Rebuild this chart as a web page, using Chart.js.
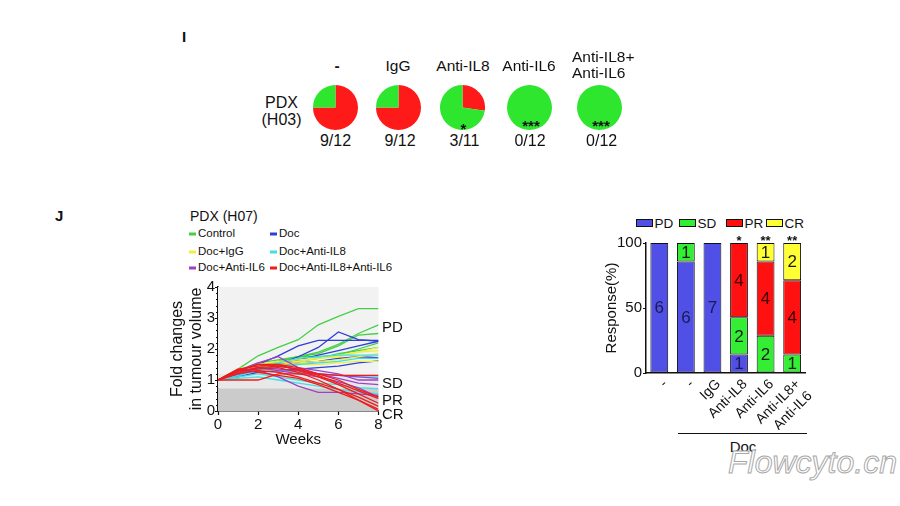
<!DOCTYPE html>
<html><head><meta charset="utf-8">
<script src="https://cdn.jsdelivr.net/npm/chart.js@4.4.1/dist/chart.umd.min.js"></script>
<style>
body{margin:0;width:900px;height:506px;background:#fff;position:relative;overflow:hidden;font-family:"Liberation Sans",Arial,sans-serif;color:#111}
.t{position:absolute;white-space:nowrap;line-height:1;z-index:5}
.c{transform:translate(-50%,-50%)}
.l{transform:translate(0,-50%)}
canvas{position:absolute;z-index:1}
.mk{position:absolute;width:7px;height:3px;transform:translate(0,-50%)}
.bx{position:absolute;width:15px;height:6px;border:1px solid #111}
</style></head><body>

<div class="t l" style="left:182px;top:36px;font-size:15px;font-weight:bold">I</div>
<div class="t l" style="left:55px;top:215px;font-size:15px;font-weight:bold">J</div>

<div id="pieHeads"></div>
<div class="t c" style="left:281.5px;top:103px;font-size:16px">PDX</div>
<div class="t c" style="left:281.5px;top:119.5px;font-size:16px">(H03)</div>

<div class="t l" style="left:190px;top:216px;font-size:14px">PDX (H07)</div>
<div id="lineLegend"></div>
<div id="respLabels"></div>

<div id="barLegend"></div>
<div style="position:absolute;left:678px;top:433px;width:129px;height:0;border-top:1.5px solid #111"></div>
<div class="t c" style="left:743px;top:446px;font-size:15px">Doc</div>

<div class="t" style="left:728px;top:446px;font-size:32px;font-style:italic;color:#fff;-webkit-text-stroke:1px #a8a8a8">Flowcyto.cn</div>

<canvas id="lineChart" width="225" height="172" style="left:160px;top:277px"></canvas>
<canvas id="barChart" width="230" height="197" style="left:590px;top:233px"></canvas>

<script>
// ---------- Panel I data ----------
const pieGroups = ["-", "IgG", "Anti-IL8", "Anti-IL6", "Anti-IL8+\nAnti-IL6"];
const pieResponders = [9, 9, 3, 0, 0];
const pieTotals = [12, 12, 11, 12, 12];
const pieStars = ["", "", "*", "***", "***"];

// ---------- Panel J line chart data ----------
const weeks = [0, 1, 2, 3, 4, 5, 6, 7, 8];
const controlLines = [
  [1, 1.35, 1.78, 2.05, 2.3, 2.78, 3.05, 3.3, 3.3],
  [1, 1.3, 1.55, 1.65, 1.75, 1.9, 2.15, 2.5, 2.78],
  [1, 1.25, 1.45, 1.6, 1.75, 1.85, 2.1, 2.45, 2.5],
  [1, 1.2, 1.4, 1.6, 1.75, 1.75, 1.8, 2.0, 2.2],
  [1, 1.2, 1.35, 1.5, 1.6, 1.7, 1.85, 1.95, 2.05]
];
const docLines = [
  [1, 1.2, 1.3, 1.5, 1.75, 2.05, 2.55, 2.3, 2.25],
  [1, 1.2, 1.5, 1.78, 2.1, 2.28, 2.28, 2.28, 2.28],
  [1, 1.1, 1.25, 1.3, 1.35, 1.4, 1.45, 1.55, 1.62],
  [1, 1.15, 1.35, 1.45, 1.55, 1.6, 1.7, 1.75, 1.72],
  [1, 1.2, 1.35, 1.5, 1.65, 1.8, 1.95, 2.1, 2.25]
];
const igGLines = [
  [1, 1.3, 1.45, 1.55, 1.6, 1.7, 1.8, 1.9, 2.05],
  [1, 1.25, 1.4, 1.5, 1.55, 1.6, 1.65, 1.75, 1.85],
  [1, 1.35, 1.5, 1.6, 1.65, 1.7, 1.75, 1.9, 1.95],
  [1, 1.3, 1.4, 1.45, 1.5, 1.5, 1.55, 1.6, 1.6]
];
const antiIL8Lines = [
  [1, 1.2, 1.4, 1.55, 1.7, 1.75, 1.8, 1.8, 1.8],
  [1, 1.15, 1.3, 1.4, 1.5, 1.55, 1.6, 1.7, 1.7],
  [1, 1.1, 1.2, 1.1, 1.0, 0.9, 0.85, 0.75, 0.72],
  [1, 1.05, 1.1, 1.0, 0.9, 0.8, 0.7, 0.62, 0.55],
  [1, 1.2, 1.35, 1.3, 1.25, 1.2, 1.15, 1.1, 1.1]
];
const antiIL6Lines = [
  [1, 1.3, 1.55, 1.75, 1.4, 1.3, 1.2, 1.0, 1.0],
  [1, 1.25, 1.3, 1.1, 0.8, 0.6, 0.6, 0.55, 0.5],
  [1, 1.3, 1.4, 1.35, 1.3, 1.2, 1.05, 0.9, 0.85],
  [1, 1.2, 1.4, 1.3, 1.2, 1.1, 0.95, 0.75, 0.45],
  [1, 1.3, 1.5, 1.45, 1.35, 1.2, 1.15, 1.1, 1.05]
];
const comboLines = [
  [1, 1.3, 1.35, 1.4, 1.25, 1.0, 0.7, 0.35, 0.0],
  [1, 1.35, 1.45, 1.5, 1.3, 1.1, 0.85, 0.55, 0.25],
  [1, 1.25, 1.4, 1.45, 1.35, 1.15, 0.9, 0.65, 0.4],
  [1, 1.3, 1.5, 1.5, 1.4, 1.2, 1.0, 0.7, 0.45],
  [1, 1.2, 1.3, 1.25, 1.1, 0.9, 0.7, 0.45, 0.15],
  [1, 1.0, 1.0, 1.2, 1.2, 1.2, 1.15, 1.15, 1.15],
  [1, 1.35, 1.25, 1.15, 1.05, 0.85, 0.6, 0.35, 0.05]
];
const lineGroupNames = ["Control", "Doc", "Doc+IgG", "Doc+Anti-IL8", "Doc+Anti-IL6", "Doc+Anti-IL8+Anti-IL6"];
const lineGroupColors = ["#44d044", "#2f3fd8", "#eeee44", "#40e0e0", "#a040c8", "#ee1c1c"];
const yTicksLine = [0, 1, 2, 3, 4];
const xTicksLine = [0, 2, 4, 6, 8];
const responseLabels = ["PD", "SD", "PR", "CR"];

// ---------- Panel J bar chart data ----------
const barCategories = ["-", "-", "IgG", "Anti-IL8", "Anti-IL6", ["Anti-IL8+", "Anti-IL6"]];
const pdCounts = [6, 6, 7, 1, 0, 0];
const sdCounts = [0, 1, 0, 2, 2, 1];
const prCounts = [0, 0, 0, 4, 4, 4];
const crCounts = [0, 0, 0, 0, 1, 2];
const barStars = ["", "", "", "*", "**", "**"];
const barColors = ["#5050e6", "#33ee33", "#ff1111", "#ffff33"];

Chart.defaults.font.family = '"Liberation Sans", Arial, sans-serif';
Chart.defaults.color = '#111';
Chart.defaults.animation = false;

// ---------- HTML text helpers ----------
function addText(parent, txt, left, top, size, cls, extra) {
  const d = document.createElement('div');
  d.className = 't ' + cls;
  d.style.left = left + 'px'; d.style.top = top + 'px'; d.style.fontSize = size + 'px';
  if (extra) Object.assign(d.style, extra);
  d.textContent = txt;
  document.getElementById(parent).appendChild(d);
  return d;
}

// ---------- Pies ----------
const pieCx = [335.5, 398.7, 462.5, 529.8, 599];
const headCx = [337, 398, 463, 529];
pieGroups.forEach((g, i) => {
  if (g.indexOf('\n') >= 0) {
    const parts = g.split('\n');
    addText('pieHeads', parts[0], 572, 57, 15.5, 'l');
    addText('pieHeads', parts[1], 572, 73, 15.5, 'l');
  } else {
    addText('pieHeads', g, headCx[i], 66, 15.5, 'c', g === '-' ? {fontWeight: 'bold'} : null);
  }
  const cv = document.createElement('canvas');
  cv.width = 45; cv.height = 45;
  cv.style.left = (pieCx[i] - 22.5) + 'px'; cv.style.top = (107.5 - 22.5) + 'px';
  document.body.appendChild(cv);
  new Chart(cv, {
    type: 'pie',
    data: {labels: ['Responder', 'Non-responder'], datasets: [{
      data: [pieResponders[i], pieTotals[i] - pieResponders[i]],
      backgroundColor: ['#ff1a1a', '#2fe62f'], borderWidth: 0
    }]},
    options: {responsive: false, devicePixelRatio: 1, layout: {padding: 0},
      plugins: {legend: {display: false}, tooltip: {enabled: false}}}
  });
  addText('pieHeads', pieResponders[i] + '/' + pieTotals[i], [335.5, 400, 464.5, 530, 601.7][i], 141, 16, 'c');
  if (pieStars[i]) addText('pieHeads', pieStars[i], [0, 0, 463.3, 531, 601][i], i === 2 ? 128 : 125, 15, 'c', {fontWeight: 'bold'});
});

// ---------- Line legend ----------
const legPos = [[189, 234], [270, 234], [189, 251.5], [270, 251.5], [189, 268], [270, 268]];
lineGroupNames.forEach((n, i) => {
  const m = document.createElement('div');
  m.className = 'mk';
  m.style.left = legPos[i][0] + 'px'; m.style.top = legPos[i][1] + 'px'; m.style.background = lineGroupColors[i];
  document.getElementById('lineLegend').appendChild(m);
  addText('lineLegend', n, legPos[i][0] + 9, legPos[i][1], 11.5, 'l');
});
const respY = [326, 381.7, 399, 413];
responseLabels.forEach((r, i) => addText('respLabels', r, 382, respY[i], 15, 'l'));

// ---------- Bar legend ----------
const blX = [636, 679, 726, 766];
responseLabels.forEach((r, i) => {
  const b = document.createElement('div');
  b.className = 'bx';
  b.style.left = blX[i] + 'px'; b.style.top = '219px'; b.style.background = barColors[i];
  document.getElementById('barLegend').appendChild(b);
  addText('barLegend', r, blX[i] + 18.5, 223.5, 13.5, 'l');
});

// ---------- Line chart ----------
const lineSets = [controlLines, docLines, igGLines, antiIL8Lines, antiIL6Lines, comboLines];
const datasets = [];
lineSets.forEach((set, gi) => {
  set.forEach(vals => {
    datasets.push({
      label: lineGroupNames[gi],
      data: vals.map((v, k) => ({x: weeks[k], y: v})),
      borderColor: lineGroupColors[gi], borderWidth: 1.3,
      pointRadius: 0, tension: 0, fill: false,
      order: lineSets.length - gi
    });
  });
});
const bands = {
  id: 'bands',
  beforeDatasetsDraw(chart) {
    const {ctx, scales: {x, y}} = chart;
    const x0 = x.getPixelForValue(0), x1 = x.getPixelForValue(8);
    const fills = [[4, 1.2, '#f2f2f2'], [1.2, 0.73, '#e8e8e8'], [0.73, 0, '#cbcbcb']];
    ctx.save();
    fills.forEach(f => {
      const ya = y.getPixelForValue(f[0]), yb = y.getPixelForValue(f[1]);
      ctx.fillStyle = f[2];
      ctx.fillRect(x0, ya, x1 - x0, yb - ya);
    });
    ctx.restore();
  },
  afterDraw(chart) {
    const {ctx, scales: {y}, chartArea} = chart;
    ctx.save();
    ctx.strokeStyle = '#111'; ctx.lineWidth = 1;
    ctx.beginPath();
    for (let k = 0; k <= 20; k++) {
      if (k % 5 === 0) continue;
      const py = Math.round(y.getPixelForValue(k * 0.2)) + 0.5;
      ctx.moveTo(chartArea.left - 2, py); ctx.lineTo(chartArea.left, py);
    }
    ctx.stroke();
    ctx.restore();
  }
};
new Chart(document.getElementById('lineChart'), {
  type: 'line',
  data: {datasets},
  options: {
    responsive: false, devicePixelRatio: 1,
    layout: {padding: {top: 10, right: 6.5, left: 0, bottom: 0}},
    plugins: {legend: {display: false}, tooltip: {enabled: false}},
    scales: {
      x: {type: 'linear', min: 0, max: 8,
        afterBuildTicks: s => { s.ticks = xTicksLine.map(v => ({value: v})); },
        grid: {drawOnChartArea: false, tickLength: 4, tickColor: '#111', tickWidth: 1.2},
        border: {color: '#111', width: 1.5},
        ticks: {font: {size: 15}, padding: 1, color: '#111'},
        title: {display: true, text: 'Weeks', font: {size: 15}, padding: 0, color: '#111'},
        afterFit: s => { s.height = 38; }
      },
      y: {min: 0, max: 4,
        afterBuildTicks: s => { s.ticks = yTicksLine.map(v => ({value: v})); },
        grid: {drawOnChartArea: false, tickLength: 3, tickColor: '#111', tickWidth: 1.2},
        border: {color: '#111', width: 1.5},
        ticks: {font: {size: 15}, padding: 0, color: '#111'},
        title: {display: true, text: ['Fold changes', 'in tumour volume'], font: {size: 16}, padding: {top: 8, bottom: 0}, color: '#111'},
        afterFit: s => { s.width = 58; }
      }
    }
  },
  plugins: [bands]
});

// ---------- Bar chart ----------
const totals = pdCounts.map((v, i) => v + sdCounts[i] + prCounts[i] + crCounts[i]);
const countSets = [pdCounts, sdCounts, prCounts, crCounts];
const barLabelsPlugin = {
  id: 'barLabels',
  afterDatasetsDraw(chart) {
    const ctx = chart.ctx;
    ctx.save();
    ctx.textAlign = 'center'; ctx.textBaseline = 'middle';
    ctx.font = '17px "Liberation Sans", Arial';
    countSets.forEach((cs, di) => {
      const meta = chart.getDatasetMeta(di);
      meta.data.forEach((el, i) => {
        if (!cs[i]) return;
        ctx.fillStyle = di === 0 ? '#1a1a50' : (di === 2 ? '#3a0000' : '#1a1a1a');
        ctx.fillText(String(cs[i]), el.x, (el.y + el.base) / 2 + 1);
      });
    });
    ctx.font = 'bold 13px "Liberation Sans", Arial';
    ctx.fillStyle = '#111';
    const meta0 = chart.getDatasetMeta(0);
    barStars.forEach((s, i) => {
      if (!s) return;
      ctx.fillText(s, meta0.data[i].x, chart.scales.y.getPixelForValue(100) - 2);
    });
    ctx.restore();
  }
};
new Chart(document.getElementById('barChart'), {
  type: 'bar',
  data: {
    labels: barCategories,
    datasets: responseLabels.map((r, di) => ({
      label: r,
      data: countSets[di].map((v, i) => v / totals[i] * 100),
      backgroundColor: barColors[di], borderColor: '#111', borderWidth: 1,
      borderSkipped: false, barPercentage: 0.67, categoryPercentage: 1
    }))
  },
  options: {
    responsive: false, devicePixelRatio: 1,
    layout: {padding: {top: 10, right: 13, left: 0, bottom: 0}},
    plugins: {legend: {display: false}, tooltip: {enabled: false}},
    scales: {
      x: {stacked: true,
        grid: {display: false, drawTicks: false},
        border: {color: '#111', width: 1.5},
        ticks: {font: {size: 14}, minRotation: 45, maxRotation: 45, autoSkip: false, padding: 3, labelOffset: 6, color: '#111'},
        afterFit: s => { s.height = 57; }
      },
      y: {stacked: true, min: 0, max: 100,
        ticks: {stepSize: 50, font: {size: 15}, padding: 1, color: '#111'},
        grid: {drawOnChartArea: false, tickLength: 3, tickColor: '#111', tickWidth: 1.2},
        border: {color: '#111', width: 1.5},
        title: {display: true, text: 'Response(%)', font: {size: 15}, padding: {top: 13, bottom: 0}, color: '#111'},
        afterFit: s => { s.width = 56; }
      }
    }
  },
  plugins: [barLabelsPlugin]
});
</script>
</body></html>
